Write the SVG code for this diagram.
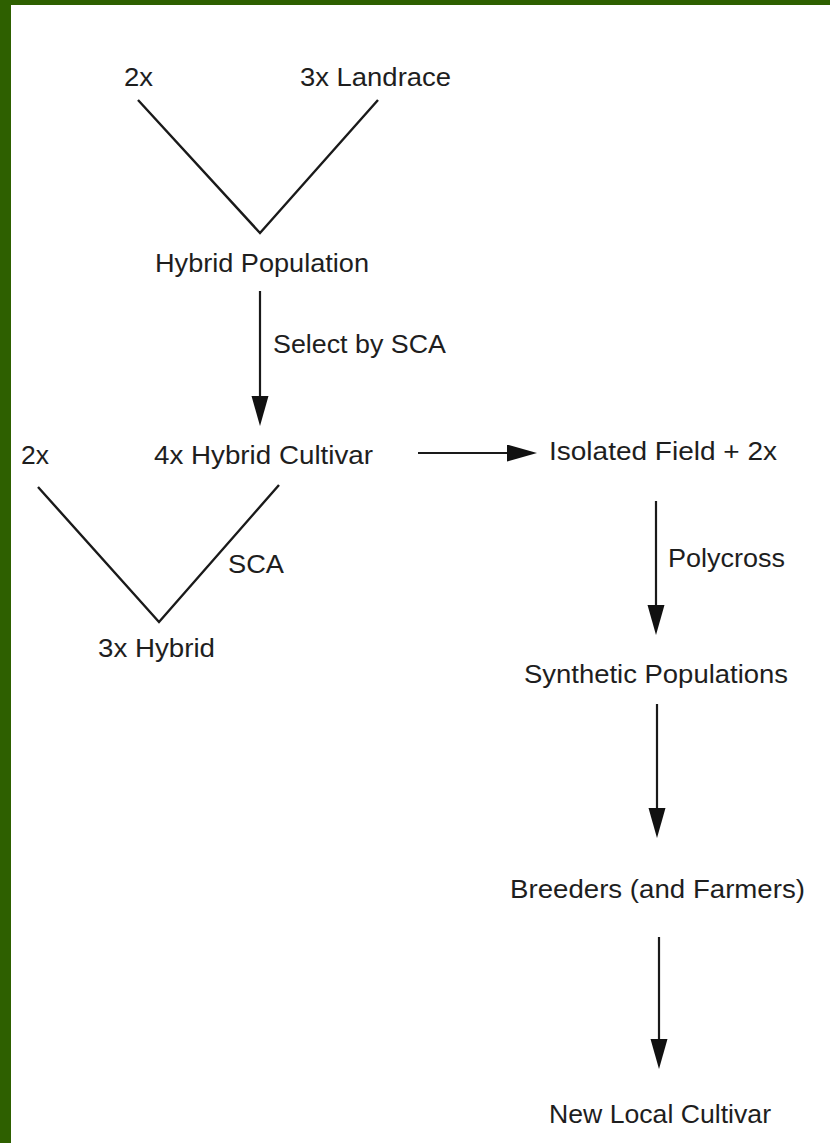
<svg xmlns="http://www.w3.org/2000/svg" width="830" height="1143" viewBox="0 0 830 1143">
  <defs>
    <style>
      .lbl { font-family: "Liberation Sans", Arial, Helvetica, sans-serif; font-size: 26.5px; fill: #1e1e1e; }
      .edge { stroke: #1a1a1a; stroke-width: 2.2; fill: none; }
      .cross { stroke: #1a1a1a; stroke-width: 2.4; fill: none; stroke-linejoin: miter; }
    </style>
    <!-- narrow solid arrowhead; tip sits 10px past the line end -->
    <marker id="head" markerUnits="userSpaceOnUse" markerWidth="30" markerHeight="18" refX="20" refY="8.5" orient="auto">
      <path d="M0,0 L30,8.5 L0,17 Z" fill="#111"/>
    </marker>
  </defs>

  <!-- frame -->
  <rect x="0" y="0" width="830" height="1143" fill="#ffffff"/>
  <rect x="0" y="0" width="830" height="5" fill="#2e6000"/>
  <rect x="0" y="0" width="11" height="1143" fill="#2e6000"/>

  <!-- connectors -->
  <g id="connectors">
    <polyline class="cross" points="138,100 260,233 378,100"/>
    <polyline class="cross" points="38,487 159,622 279,485"/>
    <line class="edge" x1="260" y1="291" x2="260" y2="416" marker-end="url(#head)"/>
    <line class="edge" x1="418" y1="453" x2="527" y2="453" marker-end="url(#head)"/>
    <line class="edge" x1="656" y1="501" x2="656" y2="625" marker-end="url(#head)"/>
    <line class="edge" x1="657" y1="704" x2="657" y2="828" marker-end="url(#head)"/>
    <line class="edge" x1="659" y1="937" x2="659" y2="1059" marker-end="url(#head)"/>
  </g>

  <!-- nodes -->
  <g id="parent-2x-top"><text class="lbl" x="124" y="86" textLength="29" lengthAdjust="spacingAndGlyphs">2x</text></g>
  <g id="parent-3x-landrace"><text class="lbl" x="300" y="86" textLength="151" lengthAdjust="spacingAndGlyphs">3x Landrace</text></g>
  <g id="hybrid-population"><text class="lbl" x="155" y="272" textLength="214" lengthAdjust="spacingAndGlyphs">Hybrid Population</text></g>
  <g id="label-select-sca"><text class="lbl" x="273" y="353" textLength="173" lengthAdjust="spacingAndGlyphs">Select by SCA</text></g>
  <g id="parent-2x-lower"><text class="lbl" x="21" y="464" textLength="28" lengthAdjust="spacingAndGlyphs">2x</text></g>
  <g id="hybrid-cultivar-4x"><text class="lbl" x="154" y="464" textLength="219" lengthAdjust="spacingAndGlyphs">4x Hybrid Cultivar</text></g>
  <g id="label-sca"><text class="lbl" x="228" y="573" textLength="56" lengthAdjust="spacingAndGlyphs">SCA</text></g>
  <g id="hybrid-3x"><text class="lbl" x="98" y="657" textLength="117" lengthAdjust="spacingAndGlyphs">3x Hybrid</text></g>
  <g id="isolated-field"><text class="lbl" x="549" y="460" textLength="228" lengthAdjust="spacingAndGlyphs">Isolated Field + 2x</text></g>
  <g id="label-polycross"><text class="lbl" x="668" y="567" textLength="117" lengthAdjust="spacingAndGlyphs">Polycross</text></g>
  <g id="synthetic-populations"><text class="lbl" x="524" y="683" textLength="264" lengthAdjust="spacingAndGlyphs">Synthetic Populations</text></g>
  <g id="breeders-farmers"><text class="lbl" x="510" y="898" textLength="295" lengthAdjust="spacingAndGlyphs">Breeders (and Farmers)</text></g>
  <g id="new-local-cultivar"><text class="lbl" x="549" y="1123" textLength="222" lengthAdjust="spacingAndGlyphs">New Local Cultivar</text></g>
</svg>
